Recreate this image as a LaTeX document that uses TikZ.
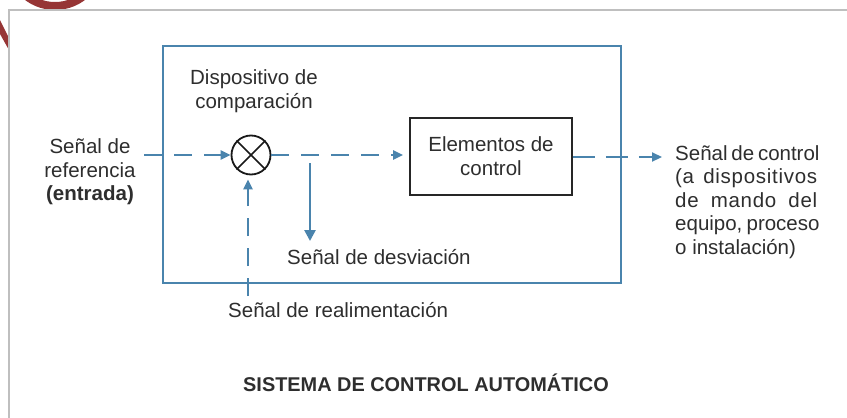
\documentclass[tikz,border=0pt]{standalone}
\usepackage{fontspec}
\setmainfont{Liberation Sans}
\usetikzlibrary{arrows.meta,positioning}
\definecolor{sigblue}{HTML}{4A84AD}
\definecolor{logored}{HTML}{963535}
\definecolor{txtgrey}{HTML}{2E2E2E}
\newcommand{\espaciado}[1]{{\addfontfeature{LetterSpace=3.5}#1}}
\tikzset{
  signal/.style = {draw=sigblue, line width=2.2pt, dash pattern=on 18pt off 12pt,
    -{Triangle[length=10pt,width=9pt]}},
  branch/.style = {draw=sigblue, line width=2.6pt, -{Triangle[length=11pt,width=11pt]}},
  txt/.style = {inner sep=0pt, text=txtgrey, font=\fontsize{20.5}{23.5}\selectfont},
  bloque/.style = {draw=black!85, line width=1.8pt, minimum width=162pt,
    minimum height=77pt, align=center, inner sep=0pt, text=txtgrey,
    font=\fontsize{20.5}{24}\selectfont},
  comparador/.style = {draw=black!90, circle, line width=1.8pt, minimum size=39pt, inner sep=0pt}
}

\begin{document}
\begin{tikzpicture}
  [x = 1pt, y = -1pt]
  \useasboundingbox (0,0) rectangle (847,418);
  % logo and page frame
  \fill[logored, even odd rule] (55,-40) circle (50) (55,-40) circle (42);
  \fill[logored] (0,20) -- (9,38) -- (9,50) -- (0,34) -- cycle;
  \draw[draw=black!25, fill=white, line width=1.2pt] (9,10) rectangle (870,440);

  % blocks
  \node[draw=sigblue, line width=2.4pt, minimum width=458pt, minimum height=237pt] (sistema) at (392,164.5) {};
  \node[comparador] (comp) at (251,155) {};
  \draw[black!90, line width=1.6pt] (comp.north west) -- (comp.south east);
  \draw[black!90, line width=1.6pt] (comp.north east) -- (comp.south west);
  \node[bloque] (elem) at (491,156.5) {Elementos de\\control};

  % signals
  \coordinate (entra) at (144,155);
  \coordinate (rama) at (310,163);
  \coordinate (desv) at (310,241);
  \coordinate (realim) at (248,296);
  \coordinate (sale) at (662,157);
  \draw[signal] (entra) -- (comp.west);
  \draw[signal, shorten >=6pt] (comp.east) -- (comp.east -| elem.west);
  \draw[branch] (rama) -- (desv);
  \draw[signal, shorten >=4pt] (realim) -- (realim |- comp.south);
  \draw[signal, dash pattern=on 22pt off 11pt] (elem.east |- sale) -- (sale);

  % texts
  \node[txt, align=center] (ref) at (90,172) {Señal de\\referencia\\\textbf{(entrada)}};
  \node[txt, align=center] (dispo) at (254,91) {Dispositivo de\\comparación};
  \node[txt, anchor=west] (desvtxt) at (287,257) {Señal de desviación};
  \node[txt, anchor=west] (realtxt) at (228,310) {Señal de realimentación};
  \node[txt, anchor=north west, align=left] (salida) at (675,145)
    {\makebox[142pt][s]{Señal de control}\\\makebox[142pt][s]{\espaciado{(a dispositivos}}\\
     \makebox[142pt][s]{\espaciado{de mando del}}\\\makebox[142pt][s]{equipo, proceso}\\o instalación)};
  \node[txt, font=\fontsize{19.9}{23}\selectfont\bfseries] (titulo) at (426,383)
    {SISTEMA DE CONTROL AUTOMÁTICO};
\end{tikzpicture}
\end{document}
